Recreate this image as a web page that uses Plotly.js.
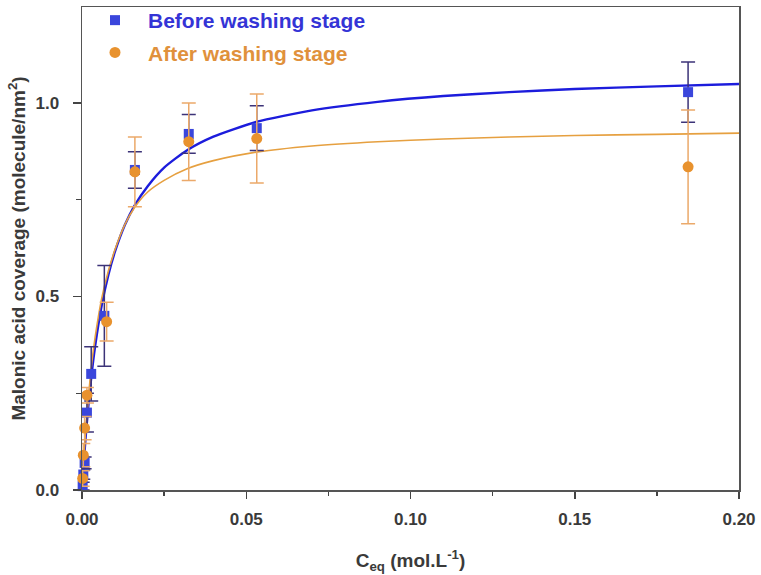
<!DOCTYPE html>
<html>
<head>
<meta charset="utf-8">
<script src="https://cdn.plot.ly/plotly-3.0.1.min.js"></script>
<style>
  html, body { margin: 0; padding: 0; background: #fff; }
  #chart { width: 761px; height: 575px; }
</style>
</head>
<body>
<div id="chart"></div>
<script>
// Measured adsorption data: equilibrium concentration (mol/L) vs coverage (molecule/nm²)
const beforeX   = [0.0002, 0.0004, 0.0008, 0.0015, 0.0028, 0.0068, 0.0161, 0.0325, 0.0532, 0.1845];
const beforeY   = [0.010, 0.040, 0.070, 0.200, 0.300, 0.450, 0.827, 0.920, 0.935, 1.028];
const beforeErr = [0.010, 0.012, 0.015, 0.050, 0.070, 0.130, 0.047, 0.050, 0.058, 0.078];

const afterX   = [0.0002, 0.0004, 0.0008, 0.0015, 0.0075, 0.0161, 0.0325, 0.0532, 0.1845];
const afterY   = [0.030, 0.090, 0.160, 0.245, 0.435, 0.822, 0.900, 0.908, 0.835];
const afterErr = [0.020, 0.030, 0.030, 0.020, 0.050, 0.090, 0.100, 0.115, 0.147];

// Langmuir fit curves, sampled along the concentration axis
const fitX      = [0, 0.0005, 0.001, 0.002, 0.003, 0.004, 0.006, 0.008, 0.010, 0.013, 0.016, 0.020, 0.025, 0.032, 0.040, 0.053, 0.070, 0.090, 0.110, 0.130, 0.150, 0.175, 0.200];
const fitBefore = [0, 0.066, 0.125, 0.224, 0.305, 0.372, 0.477, 0.555, 0.615, 0.684, 0.735, 0.785, 0.833, 0.878, 0.913, 0.951, 0.981, 1.003, 1.018, 1.028, 1.036, 1.043, 1.049];
const fitAfter  = [0, 0.075, 0.140, 0.245, 0.330, 0.395, 0.495, 0.565, 0.620, 0.685, 0.730, 0.770, 0.800, 0.830, 0.851, 0.873, 0.889, 0.900, 0.907, 0.912, 0.916, 0.919, 0.922];

const xTicks = [0, 0.05, 0.10, 0.15, 0.20];
const yTicks = [0, 0.5, 1.0];

const SANS = 'Liberation Sans, Arial, sans-serif';

const traces = [
  {
    x: fitX, y: fitBefore, type: 'scatter', mode: 'lines',
    line: { color: '#1c1cdc', width: 2.4, shape: 'spline', smoothing: 0.6 },
    showlegend: false, hoverinfo: 'skip'
  },
  {
    x: fitX, y: fitAfter, type: 'scatter', mode: 'lines',
    line: { color: '#e6a040', width: 1.6, shape: 'spline', smoothing: 0.6 },
    showlegend: false, hoverinfo: 'skip'
  },
  {
    x: beforeX, y: beforeY, type: 'scatter', mode: 'markers',
    name: '<span style="color:#3434d6">Before washing stage</span>',
    legendgroup: 'before',
    marker: { symbol: 'square', size: 10, color: '#3a46dc' },
    error_y: { type: 'data', array: beforeErr, visible: true, color: '#3c3378', thickness: 1.5, width: 7 },
    cliponaxis: false
  },
  {
    x: afterX, y: afterY, type: 'scatter', mode: 'markers',
    name: '<span style="color:#e0913c">After washing stage</span>',
    legendgroup: 'after',
    marker: { symbol: 'circle', size: 11, color: '#e8922e' },
    error_y: { type: 'data', array: afterErr, visible: true, color: '#eba96a', thickness: 1.5, width: 7 },
    cliponaxis: false
  }
];

const tickFont = { family: SANS, size: 17, weight: 'bold', color: '#3a3a3a' };
const titleFont = { family: SANS, size: 19, weight: 'bold', color: '#3a3a3a' };

const layout = {
  width: 761, height: 575,
  margin: { l: 82, r: 22, t: 7, b: 85, autoexpand: false },
  paper_bgcolor: '#fff', plot_bgcolor: '#fff',
  font: { family: SANS, color: '#333' },
  showlegend: true,
  legend: {
    x: 0, y: 1.0145, xanchor: 'left', yanchor: 'top',
    bgcolor: 'rgba(0,0,0,0)',
    font: { family: SANS, size: 21, weight: 'bold' },
    itemwidth: 56,
    traceorder: 'grouped',
    tracegroupgap: 2
  },
  xaxis: {
    range: [0, 0.2],
    tickvals: xTicks, tickformat: '.2f',
    ticks: 'outside', ticklen: 7, tickwidth: 1.5, tickcolor: '#444',
    ticklabelstandoff: 6,
    minor: { dtick: 0.025, ticks: 'outside', ticklen: 4, tickwidth: 1.5, tickcolor: '#444', showgrid: false },
    showline: true, linecolor: '#555', linewidth: 1.5, mirror: true,
    showgrid: false, zeroline: false,
    tickfont: tickFont,
    title: { text: 'C<sub>eq</sub> (mol.L<sup>-1</sup>)', font: titleFont, standoff: 26 }
  },
  yaxis: {
    range: [0, 1.248],
    tickvals: yTicks, tickformat: '.1f',
    ticks: 'outside', ticklen: 8, tickwidth: 1.5, tickcolor: '#444',
    ticklabelstandoff: 10,
    minor: { dtick: 0.25, ticks: 'outside', ticklen: 5, tickwidth: 1.5, tickcolor: '#444', showgrid: false },
    showline: true, linecolor: '#555', linewidth: 1.5, mirror: true,
    showgrid: false, zeroline: false,
    tickfont: tickFont,
    title: { text: 'Malonic acid coverage (molecule/nm<sup>2</sup>)', font: titleFont, standoff: 5 }
  }
};

Plotly.newPlot('chart', traces, layout, { displayModeBar: false, staticPlot: true });
</script>
</body>
</html>
